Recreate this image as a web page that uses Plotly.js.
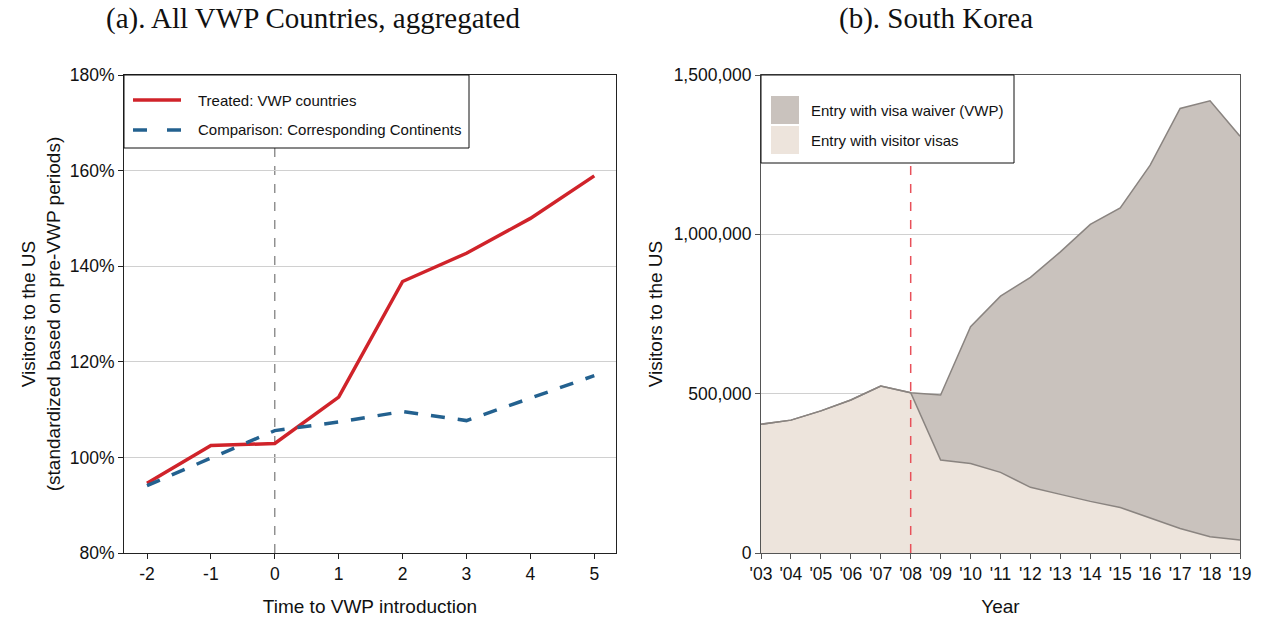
<!DOCTYPE html>
<html>
<head>
<meta charset="utf-8">
<script src="https://cdn.plot.ly/plotly-3.0.1.min.js"></script>
<style>html,body{margin:0;padding:0;background:#fff;}#chart{width:1261px;height:617px;}</style>
</head>
<body>
<div id="chart"></div>
<script>
// Panel (a)
const eventTime = [-2, -1, 0, 1, 2, 3, 4, 5];
const eventLabels = ['-2', '-1', '0', '1', '2', '3', '4', '5'];
const treated = [94.6, 102.5, 102.9, 112.6, 136.8, 142.7, 150.0, 158.9];
const comparison = [94.1, 99.8, 105.6, 107.4, 109.6, 107.7, 112.4, 117.1];
const pctTicks = [80, 100, 120, 140, 160, 180];
const pctLabels = ['80%', '100%', '120%', '140%', '160%', '180%'];
const introTime = 0;

// Panel (b)
const years = [2003,2004,2005,2006,2007,2008,2009,2010,2011,2012,2013,2014,2015,2016,2017,2018,2019];
const yearLabels = ["'03","'04","'05","'06","'07","'08","'09","'10","'11","'12","'13","'14","'15","'16","'17","'18","'19"];
const visitorVisas = [404000,417000,446000,480000,524000,503000,292000,281000,253000,206000,184000,162000,143000,109000,77000,51000,41000];
const vwpYears = [2008,2009,2010,2011,2012,2013,2014,2015,2016,2017,2018,2019];
const vwpEntries = [0,204000,429000,553000,659000,761000,869000,940000,1108000,1318000,1368000,1267000];
const countTicks = [0, 500000, 1000000, 1500000];
const vwpYear = 2008;

const sans = 'Liberation Sans, Arial, sans-serif';
const serif = 'Liberation Serif, Times New Roman, serif';

const RED = '#d0232a', BLUE = '#23618f', VWPFILL = '#c9c2bd', VISFILL = '#ede4dc', EDGE = '#8a8480';

const traces = [
  {x: eventTime, y: treated, type: 'scatter', mode: 'lines', name: 'Treated: VWP countries',
   line: {color: RED, width: 3.5}, xaxis: 'x', yaxis: 'y'},
  {x: eventTime, y: comparison, type: 'scatter', mode: 'lines', name: 'Comparison: Corresponding Continents',
   line: {color: BLUE, width: 3.5, dash: '14px,13px'}, xaxis: 'x', yaxis: 'y'},
  {x: years, y: visitorVisas, type: 'scatter', mode: 'lines', stackgroup: 'sk', name: 'Entry with visitor visas',
   fillcolor: VISFILL, line: {color: EDGE, width: 1.5}, xaxis: 'x2', yaxis: 'y2'},
  {x: vwpYears, y: vwpEntries, type: 'scatter', mode: 'lines', stackgroup: 'sk', name: 'Entry with visa waiver (VWP)',
   fillcolor: VWPFILL, line: {color: EDGE, width: 1.5}, xaxis: 'x2', yaxis: 'y2'}
];

const W = 1261, H = 617;
const px = v => v / W, py = v => 1 - v / H;
const axBase = {showline: true, linecolor: '#222', linewidth: 1, mirror: true, ticks: 'outside', ticklen: 5,
  tickcolor: '#222', tickfont: {family: sans, size: 17.5, color: '#111'}, zeroline: false};
const titleFont = {family: sans, size: 19, color: '#111'};
const legFont = {family: sans, size: 15, color: '#111'};

const layout = {
  width: W, height: H,
  margin: {l: 0, r: 0, t: 0, b: 0},
  paper_bgcolor: '#fff', plot_bgcolor: '#fff',
  showlegend: false,
  xaxis: Object.assign({}, axBase, {domain: [px(124), px(616)], range: [-2.36, 5.34], tickvals: eventTime, ticktext: eventLabels,
    showgrid: false, anchor: 'y',
    title: {text: 'Time to VWP introduction', font: titleFont, standoff: 16}}),
  yaxis: Object.assign({}, axBase, {domain: [(H-553)/H, (H-75)/H], range: [80, 180], tickvals: pctTicks, ticktext: pctLabels,
    showgrid: true, gridcolor: '#d0d0d0', gridwidth: 1, anchor: 'x',
    title: {text: 'Visitors to the US<br>(standardized based on pre-VWP periods)', font: titleFont, standoff: 4}}),
  xaxis2: Object.assign({}, axBase, {domain: [px(761), px(1240)], range: [2003, 2019], tickvals: years, ticktext: yearLabels,
    showgrid: false, anchor: 'y2', linecolor: '#555', tickcolor: '#555',
    title: {text: 'Year', font: titleFont, standoff: 16}}),
  yaxis2: Object.assign({}, axBase, {domain: [(H-553)/H, (H-75)/H], range: [0, 1500000], tickvals: countTicks,
    tickformat: ',d', showgrid: true, gridcolor: '#d0d0d0', gridwidth: 1, anchor: 'x2', linecolor: '#555', tickcolor: '#555',
    title: {text: 'Visitors to the US', font: titleFont, standoff: 5}}),
  shapes: [
    {type: 'line', xref: 'x', yref: 'y domain', x0: introTime, x1: introTime, y0: 0, y1: 1,
     line: {color: '#777', width: 1.2, dash: 'dash'}, layer: 'below'},
    {type: 'line', xref: 'x2', yref: 'y2 domain', x0: vwpYear, x1: vwpYear, y0: 0, y1: 1,
     line: {color: '#e8505a', width: 1.5, dash: 'dash'}, layer: 'above'},
    // legend (a)
    {type: 'rect', xref: 'paper', yref: 'paper', x0: px(124), x1: px(469), y0: py(148), y1: py(75),
     fillcolor: '#fff', line: {color: '#111', width: 1}, layer: 'above'},
    {type: 'line', xref: 'paper', yref: 'paper', x0: px(133), x1: px(181), y0: py(100), y1: py(100),
     line: {color: RED, width: 3.5}, layer: 'above'},
    {type: 'line', xref: 'paper', yref: 'paper', x0: px(133), x1: px(147), y0: py(130), y1: py(130),
     line: {color: BLUE, width: 3.5}, layer: 'above'},
    {type: 'line', xref: 'paper', yref: 'paper', x0: px(167), x1: px(181), y0: py(130), y1: py(130),
     line: {color: BLUE, width: 3.5}, layer: 'above'},
    // legend (b)
    {type: 'rect', xref: 'paper', yref: 'paper', x0: px(761), x1: px(1014), y0: py(163), y1: py(75),
     fillcolor: '#fff', line: {color: '#111', width: 1}, layer: 'above'},
    {type: 'rect', xref: 'paper', yref: 'paper', x0: px(771), x1: px(799), y0: py(124), y1: py(96),
     fillcolor: VWPFILL, line: {width: 0}, layer: 'above'},
    {type: 'rect', xref: 'paper', yref: 'paper', x0: px(771), x1: px(799), y0: py(154), y1: py(126),
     fillcolor: VISFILL, line: {width: 0}, layer: 'above'}
  ],
  annotations: [
    {text: '(a). All VWP Countries, aggregated', xref: 'paper', yref: 'paper', x: px(313), y: py(18),
     xanchor: 'center', yanchor: 'middle', showarrow: false, font: {family: serif, size: 29, color: '#111'}},
    {text: '(b). South Korea', xref: 'paper', yref: 'paper', x: px(936), y: py(18),
     xanchor: 'center', yanchor: 'middle', showarrow: false, font: {family: serif, size: 29, color: '#111'}},
    {text: traces[0].name, xref: 'paper', yref: 'paper', x: px(196), y: py(100), xanchor: 'left', yanchor: 'middle',
     showarrow: false, font: legFont},
    {text: traces[1].name, xref: 'paper', yref: 'paper', x: px(196), y: py(130), xanchor: 'left', yanchor: 'middle',
     showarrow: false, font: legFont},
    {text: traces[3].name, xref: 'paper', yref: 'paper', x: px(809), y: py(110), xanchor: 'left', yanchor: 'middle',
     showarrow: false, font: legFont},
    {text: traces[2].name, xref: 'paper', yref: 'paper', x: px(809), y: py(140), xanchor: 'left', yanchor: 'middle',
     showarrow: false, font: legFont}
  ]
};

Plotly.newPlot('chart', traces, layout, {displayModeBar: false, staticPlot: true});
</script>
</body>
</html>
